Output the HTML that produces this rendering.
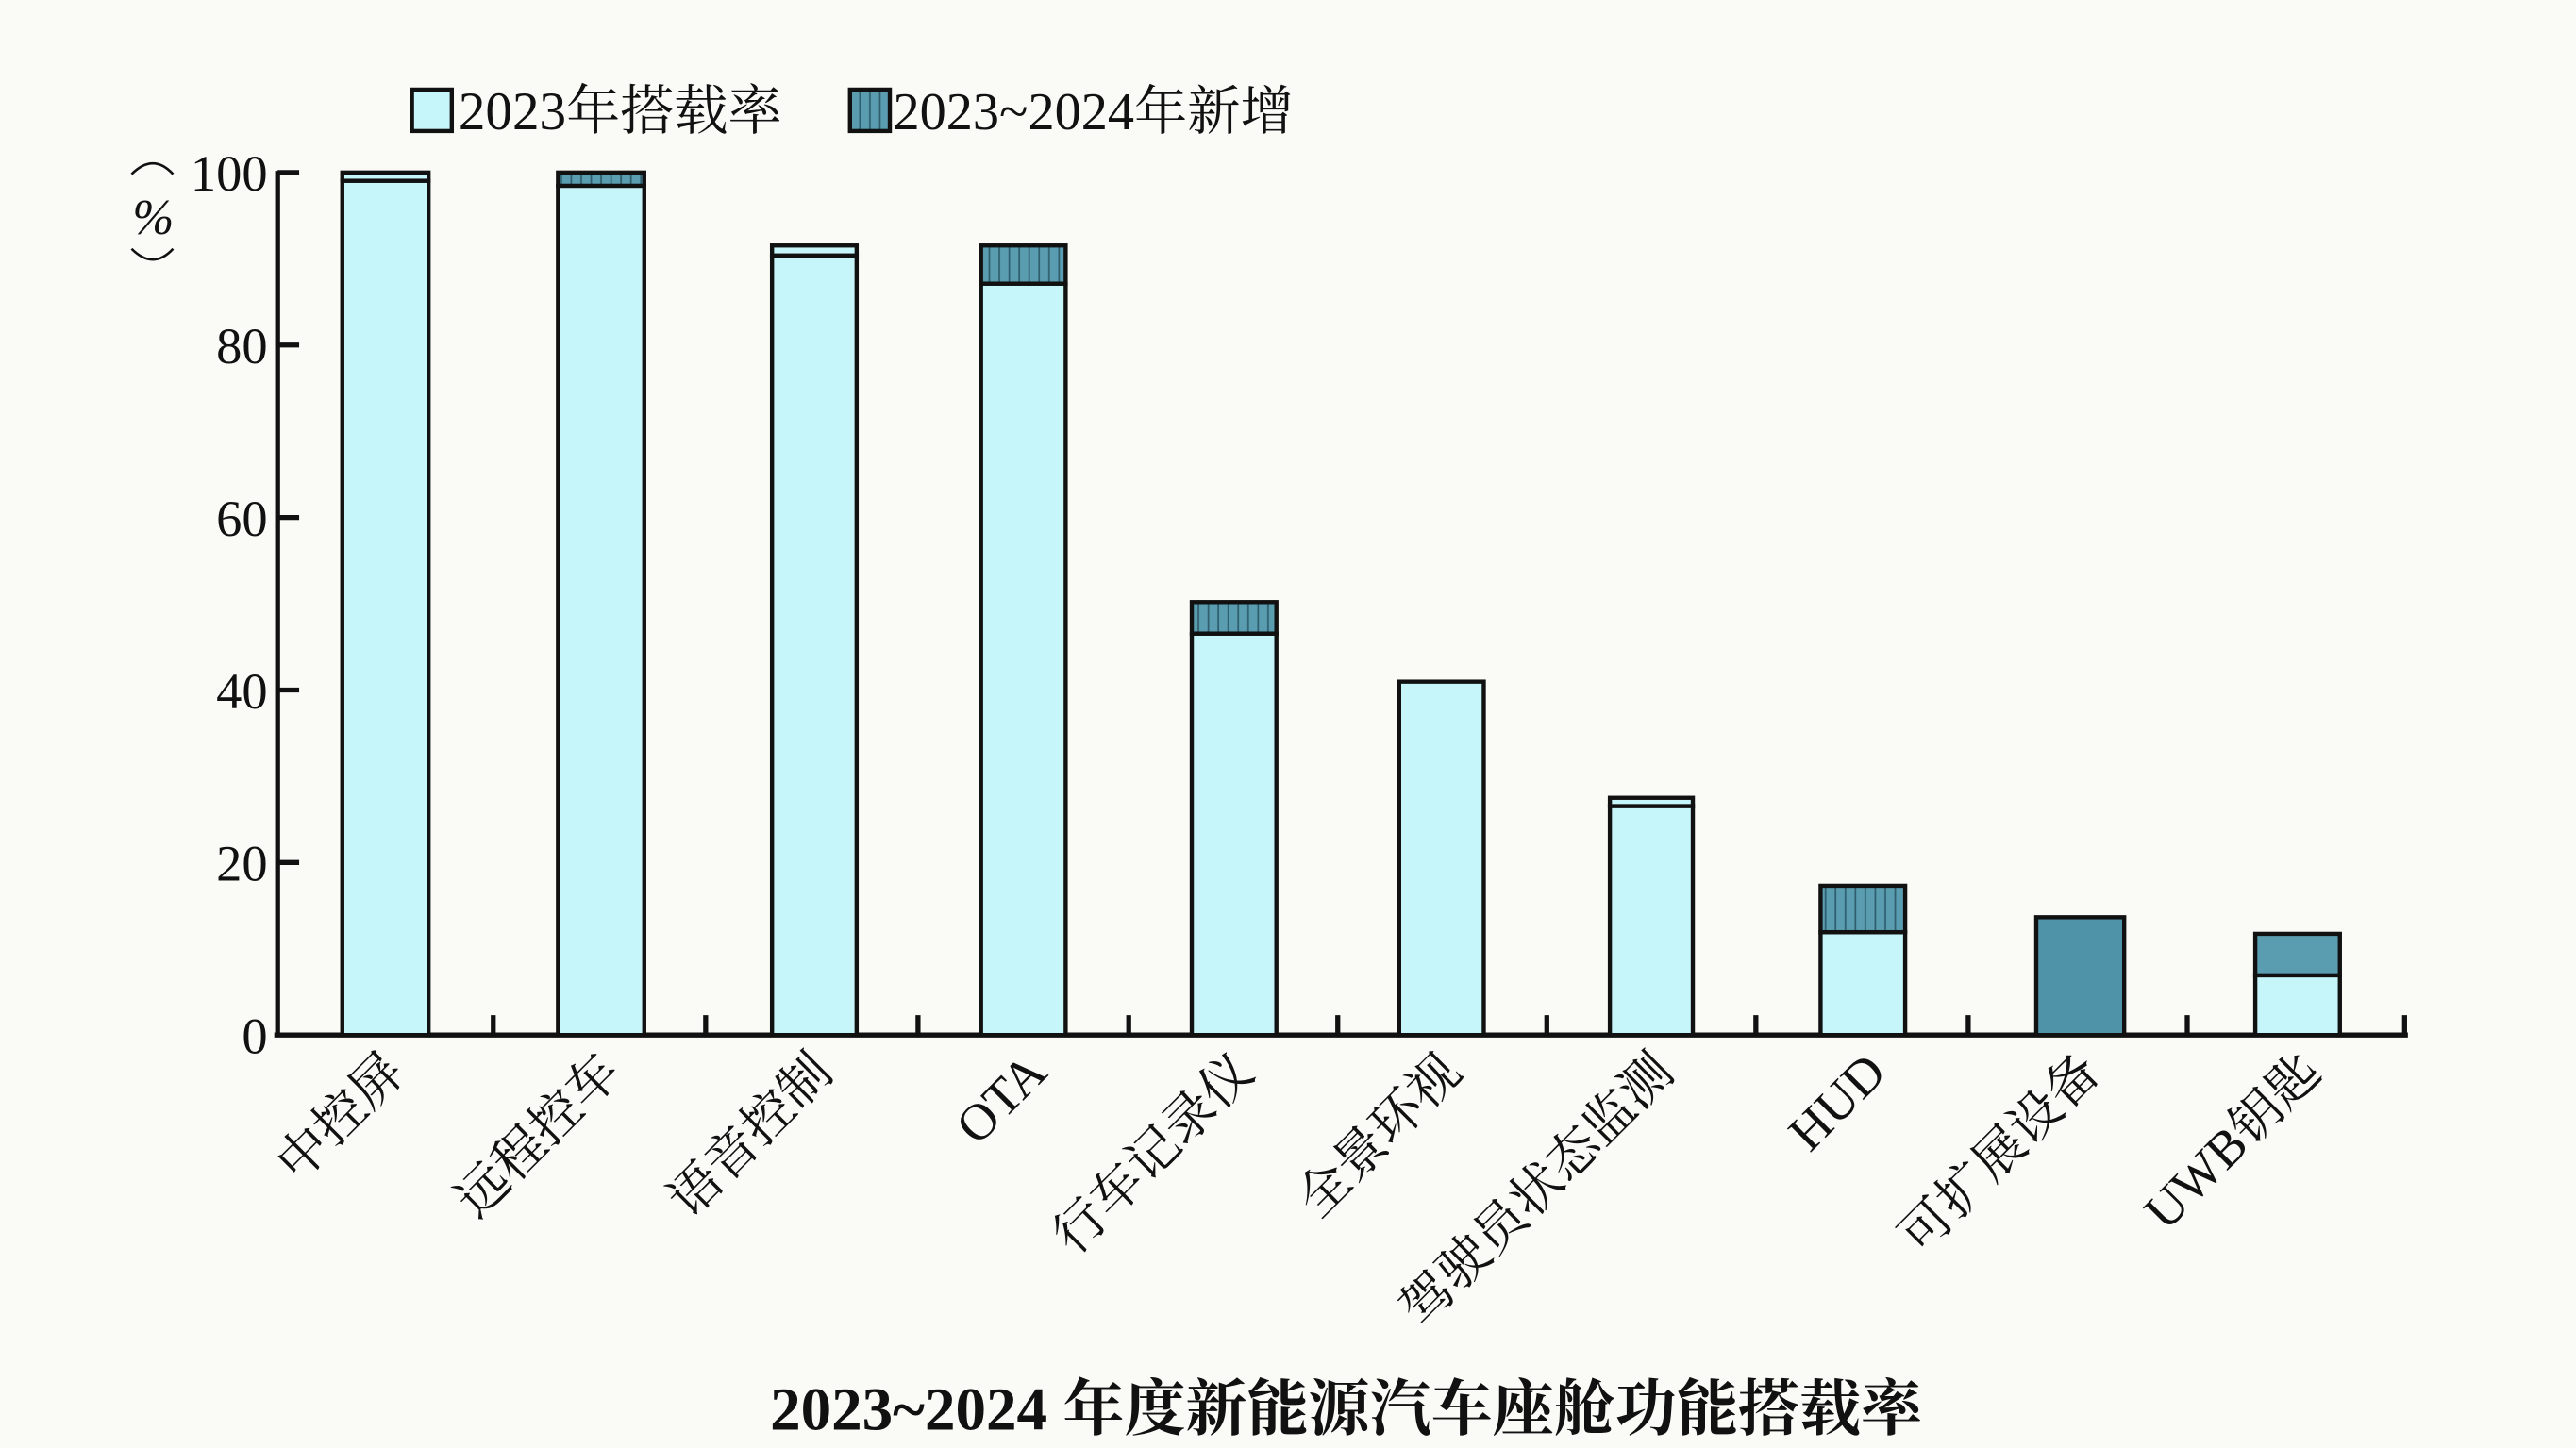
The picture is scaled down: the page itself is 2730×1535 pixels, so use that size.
<!DOCTYPE html>
<html><head><meta charset="utf-8"><style>html,body{margin:0;padding:0;background:#fafaf7}svg{display:block}</style></head>
<body>
<svg width="2730" height="1535" viewBox="0 0 1552 873" xmlns="http://www.w3.org/2000/svg">
<defs>
<pattern id="h" width="6" height="10" patternUnits="userSpaceOnUse">
<rect width="6" height="10" fill="#5a9db0"/>
<line x1="2" y1="0" x2="2" y2="10" stroke="#2f5f6e" stroke-width="1"/>
</pattern>
</defs>
<rect width="1552" height="873" fill="#fafaf7"/>
<g font-family="'Liberation Serif','Noto Serif CJK SC',serif" fill="#111">
<!-- legend -->
<rect x="248" y="54" width="24" height="25" fill="#c6f6f9" stroke="#111" stroke-width="2.5"/>
<text x="276" y="78" font-size="32.5">2023年搭载率</text>
<rect x="512" y="54" width="24" height="25" fill="url(#h)" stroke="#111" stroke-width="2.5"/>
<text x="538" y="78" font-size="32">2023~2024年新增</text>
<!-- y labels -->
<g font-size="31" text-anchor="end">
<text x="161" y="115">100</text><text x="161" y="219">80</text><text x="161" y="323">60</text>
<text x="161" y="427">40</text><text x="161" y="531">20</text><text x="161" y="635">0</text>
</g>
<path d="M79 105 Q92 92 104 105" fill="none" stroke="#111" stroke-width="1.5"/>
<text x="92" y="141" font-size="30" text-anchor="middle" font-style="italic">%</text>
<path d="M79 150 Q92 163 104 150" fill="none" stroke="#111" stroke-width="1.5"/>
<!-- axes -->
<g stroke="#111" stroke-width="3" fill="none">
<path d="M167 624 V103"/>
<path d="M165 624 H1451"/>
<path d="M167 104 H180 M167 208 H180 M167 312 H180 M167 416 H180 M167 520 H180"/>
<path d="M297 624 V612 M425 624 V612 M553 624 V612 M680 624 V612 M806 624 V612 M932 624 V612 M1058 624 V612 M1186 624 V612 M1318 624 V612 M1449 624 V612"/>
</g>
<!-- bars -->
<g stroke="#111" stroke-width="2.5">
<rect x="206" y="109" width="52" height="515" fill="#c6f6f9"/><rect x="206" y="104" width="52" height="5" fill="#c6f6f9"/>
<rect x="336" y="112" width="52" height="512" fill="#c6f6f9"/><rect x="336" y="104" width="52" height="8" fill="url(#h)"/>
<rect x="465" y="154" width="51" height="470" fill="#c6f6f9"/><rect x="465" y="148" width="51" height="6" fill="#c6f6f9"/>
<rect x="591" y="171" width="51" height="453" fill="#c6f6f9"/><rect x="591" y="148" width="51" height="23" fill="url(#h)"/>
<rect x="718" y="382" width="51" height="242" fill="#c6f6f9"/><rect x="718" y="363" width="51" height="19" fill="url(#h)"/>
<rect x="843" y="411" width="51" height="213" fill="#c6f6f9"/>
<rect x="970" y="486" width="50" height="138" fill="#c6f6f9"/><rect x="970" y="481" width="50" height="5" fill="#c6f6f9"/>
<rect x="1097" y="562" width="51" height="62" fill="#c6f6f9"/><rect x="1097" y="534" width="51" height="28" fill="url(#h)"/>
<rect x="1227" y="553" width="53" height="71" fill="#4f93a8"/>
<rect x="1359" y="588" width="51" height="36" fill="#c6f6f9"/><rect x="1359" y="563" width="51" height="25" fill="#5a9db0"/>
</g>
<!-- category labels -->
<g font-size="31" text-anchor="end" font-family="'Liberation Serif','Noto Serif CJK SC',serif">
<text transform="translate(245,648) rotate(-45)">中控屏</text>
<text transform="translate(375,648) rotate(-45)">远程控车</text>
<text transform="translate(503,648) rotate(-45)">语音控制</text>
<text transform="translate(632,648) rotate(-45)">OTA</text>
<text transform="translate(757,648) rotate(-45)">行车记录仪</text>
<text transform="translate(882,648) rotate(-45)">全景环视</text>
<text transform="translate(1010,648) rotate(-45)">驾驶员状态监测</text>
<text transform="translate(1138,648) rotate(-45)">HUD</text>
<text transform="translate(1267,648) rotate(-45)">可扩展设备</text>
<text transform="translate(1400,648) rotate(-45)">UWB钥匙</text>
</g>
<text x="811" y="862" font-size="37" font-weight="bold" text-anchor="middle">2023~2024 年度新能源汽车座舱功能搭载率</text>
</g>
</svg>
</body></html>
